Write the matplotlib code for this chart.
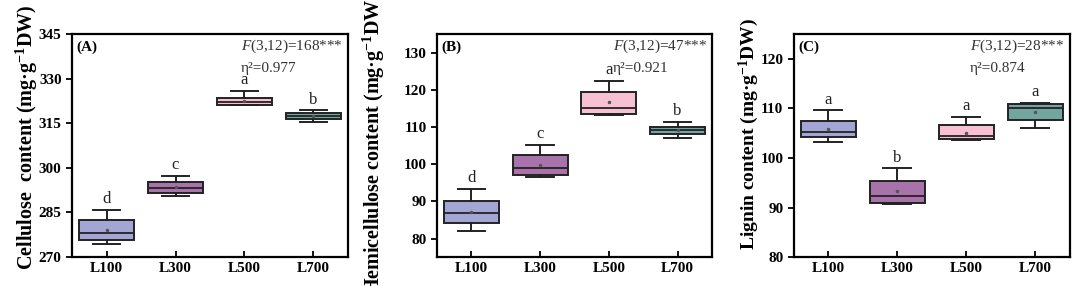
import numpy as np
import matplotlib
matplotlib.use('Agg')
import matplotlib.pyplot as plt

plt.rcParams['font.family'] = ['Liberation Serif', 'DejaVu Serif']
plt.rcParams['mathtext.fontset'] = 'custom'
plt.rcParams['mathtext.rm'] = 'Liberation Serif:bold'
plt.rcParams['mathtext.it'] = 'Liberation Serif:italic'
plt.rcParams['mathtext.bf'] = 'Liberation Serif:bold'

groups = ['L100', 'L300', 'L500', 'L700']
colors = ['#A3A5D4', '#A873AA', '#F7C1D3', '#72A5A0']

# box stats: whisker low, q1, median, q3, whisker high, mean
cell_lo = [274.5, 290.6, 321.2, 315.5]
cell_q1 = [275.6, 291.7, 321.2, 316.4]
cell_med = [278.0, 293.4, 322.3, 317.5]
cell_q3 = [282.5, 295.4, 323.6, 318.4]
cell_hi = [285.9, 297.3, 325.9, 319.3]
cell_mean = [279.0, 293.6, 322.6, 317.5]
cell_letters = ['d', 'c', 'a', 'b']

hemi_lo = [82.1, 96.5, 113.3, 107.0]
hemi_q1 = [84.2, 97.1, 113.6, 108.1]
hemi_med = [86.8, 99.1, 115.2, 109.2]
hemi_q3 = [90.2, 102.5, 119.4, 110.0]
hemi_hi = [93.3, 105.1, 122.3, 111.3]
hemi_mean = [87.2, 99.8, 116.6, 109.1]
hemi_letters = ['d', 'c', 'a', 'b']

lig_lo = [103.3, 90.7, 103.6, 106.0]
lig_q1 = [104.2, 91.0, 103.8, 107.6]
lig_med = [105.3, 92.3, 104.5, 110.0]
lig_q3 = [107.4, 95.4, 106.6, 110.9]
lig_hi = [109.6, 97.9, 108.3, 111.1]
lig_mean = [105.9, 93.4, 105.1, 109.2]
lig_letters = ['a', 'b', 'a', 'a']

panels = [
    dict(lo=cell_lo, q1=cell_q1, med=cell_med, q3=cell_q3, hi=cell_hi, mean=cell_mean,
         letters=cell_letters, ylim=(270, 345), yticks=[270, 285, 300, 315, 330, 345],
         tag='(A)', F='$F$(3,12)=168***', eta='η²=0.977',
         ylabel='Cellulose  content (mg·g$^{-1}$DW)', rect=[0.0667, 0.101, 0.2555, 0.78],
         lx=27, ly=0.52, fs=14.5, fx=0.612),
    dict(lo=hemi_lo, q1=hemi_q1, med=hemi_med, q3=hemi_q3, hi=hemi_hi, mean=hemi_mean,
         letters=hemi_letters, ylim=(75, 135), yticks=[80, 90, 100, 110, 120, 130],
         tag='(B)', F='$F$(3,12)=47***', eta='η²=0.921',
         ylabel='Hemicellulose content (mg·g$^{-1}$DW)', rect=[0.4046, 0.101, 0.2546, 0.78],
         lx=374, ly=0.5, fs=14.5, fx=0.64),
    dict(lo=lig_lo, q1=lig_q1, med=lig_med, q3=lig_q3, hi=lig_hi, mean=lig_mean,
         letters=lig_letters, ylim=(80, 125), yticks=[80, 90, 100, 110, 120],
         tag='(C)', F='$F$(3,12)=28***', eta='η²=0.874',
         ylabel='Lignin content (mg·g$^{-1}$DW)', rect=[0.735, 0.101, 0.2555, 0.78],
         lx=749, ly=0.53, fs=14, fx=0.638),
]

fig = plt.figure(figsize=(10.8, 2.86), dpi=100)

for p in panels:
    ax = fig.add_axes(p['rect'])
    stats = []
    for i, g in enumerate(groups):
        stats.append(dict(label=g, whislo=p['lo'][i], q1=p['q1'][i], med=p['med'][i],
                          q3=p['q3'][i], whishi=p['hi'][i], mean=p['mean'][i], fliers=[]))
    bp = ax.bxp(stats, positions=[1, 2, 3, 4], widths=0.8, patch_artist=True,
                showmeans=True, showfliers=False,
                boxprops=dict(edgecolor='#222222', linewidth=1.4),
                medianprops=dict(color='#222222', linewidth=1.3),
                whiskerprops=dict(color='#222222', linewidth=1.4),
                capprops=dict(color='#222222', linewidth=1.4),
                capwidths=0.4,
                meanprops=dict(marker='o', markersize=1.5, markerfacecolor='#555555',
                               markeredgecolor='#555555'))
    for patch, c in zip(bp['boxes'], colors):
        patch.set_facecolor(c)

    for i, lt in enumerate(p['letters']):
        ax.annotate(lt, (i + 1, p['hi'][i]), xytext=(0, 2), textcoords='offset points',
                    ha='center', va='bottom', fontsize=12, color='#222222')

    ax.set_xlim(0.5, 4.5)
    ax.set_ylim(*p['ylim'])
    ax.set_yticks(p['yticks'])
    ax.set_xticks([1, 2, 3, 4])
    ax.set_xticklabels(groups)
    ax.tick_params(axis='y', direction='out', length=4, width=1.3, labelsize=11)
    ax.tick_params(axis='x', direction='in', length=4, width=1.3, labelsize=11)
    for lab in ax.get_xticklabels() + ax.get_yticklabels():
        lab.set_fontweight('bold')
    for s in ax.spines.values():
        s.set_linewidth(1.6)

    ax.text(0.015, 0.94, p['tag'], transform=ax.transAxes, fontsize=11,
            fontweight='bold', va='center', ha='left')
    ax.text(p['fx'], 0.945, p['F'], transform=ax.transAxes,
            fontsize=11, va='center', ha='left', color='#333333')
    ax.text(p['fx'], 0.845, p['eta'], transform=ax.transAxes,
            fontsize=11, va='center', ha='left', color='#333333')

    fig.text(p['lx'] / 1080, p['ly'], p['ylabel'], rotation=90, fontsize=p['fs'],
             fontweight='bold', ha='center', va='center')

fig.savefig('out.png', dpi=100)
